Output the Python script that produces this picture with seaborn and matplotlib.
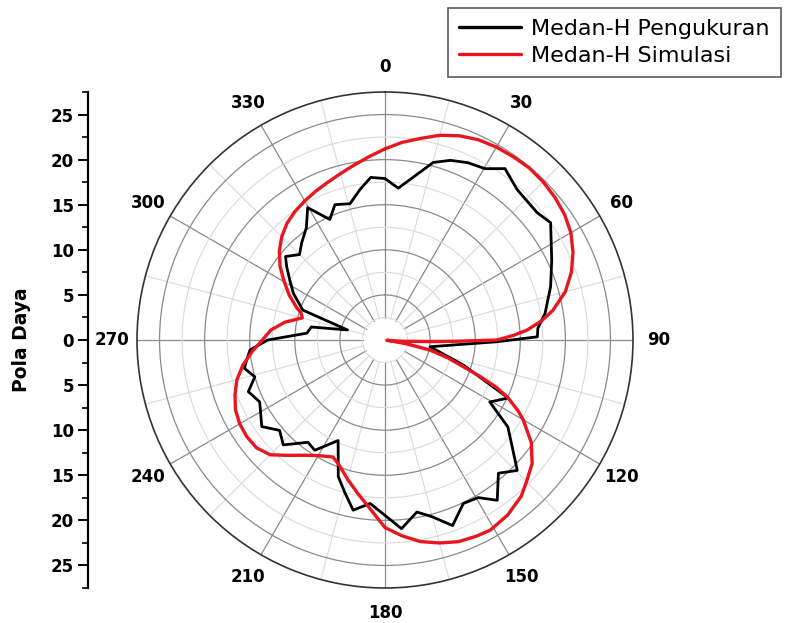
import numpy as np
import matplotlib
matplotlib.use("Agg")
import matplotlib.pyplot as plt
from matplotlib.ticker import FixedLocator, FuncFormatter
from matplotlib.lines import Line2D
import seaborn as sns

# Measured H-field pattern (angle in degrees, level)
meas_deg = [0, 5, 15.2, 20, 25, 30.3, 35, 41.3, 50, 54.7, 64.4, 72.1, 80.5, 85.6,
            88.8, 90.9, 98.5, 107.7, 115.2, 120.6, 125.3, 134.6, 139.6, 145, 149.4,
            154.4, 160, 165, 169.5, 175, 185.2, 190.6, 195, 198.9, 205, 212.5, 217,
            224.1, 229.4, 234.9, 243.7, 249.3, 254.2, 258.6, 261.8, 265.8, 270, 275,
            280, 285, 290, 297, 302.3, 306.7, 310, 315, 319.4, 325, 329.7, 335.4,
            339.7, 345.6, 350.5, 355]
meas_val = [17.9, 16.9, 20.4, 21.2, 21.7, 22.0, 23.2, 22.2, 22.0, 22.5, 20.5, 19.3,
            18.0, 17.0, 16.9, 12.4, 5.05, 9.1, 15.1, 13.5, 16.7, 20.6, 19.4, 21.7,
            20.3, 20.1, 21.9, 20.3, 19.4, 21.0, 18.2, 19.2, 17.4, 16.0, 12.3, 14.5,
            14.2, 16.2, 15.4, 16.7, 15.5, 16.2, 15.0, 15.9, 15.5, 15.0, 13.0, 8.7,
            8.3, 4.3, 9.7, 11.4, 12.5, 13.6, 14.4, 13.4, 14.2, 15.2, 17.0, 14.7,
            16.0, 15.6, 16.9, 18.1]

# Simulated H-field pattern
sim_deg = [0, 5, 10, 15, 20, 25, 30, 35, 40, 45, 50, 55, 60, 65, 70, 75, 80, 83, 86,
           88, 90, 91, 92, 94, 96, 98, 100, 102.5, 106, 109, 111, 113, 115, 118, 120,
           125, 130, 135, 139, 145, 151, 155, 160, 165, 170, 175, 180, 185, 190, 195,
           200, 204, 210, 215, 220, 225, 230, 235, 240, 245, 250, 255, 260, 265, 270,
           275, 280, 285, 288, 290, 295, 300, 305, 310, 315, 320, 325, 330, 335, 340,
           345, 350, 355]
sim_val = [21.2, 22.0, 22.7, 23.5, 24.1, 24.5, 24.7, 24.8, 24.9, 24.8, 24.6, 24.3,
           23.8, 23.0, 22.0, 20.7, 18.9, 17.5, 15.8, 14.2, 12.4, 8.0, 5.0, 2.0, 0.5,
           0.2, 2.5, 5.1, 7.3, 9.3, 11.3, 13.4, 15.0, 16.7, 17.7, 19.8, 21.3, 22.2,
           23.0, 23.7, 24.1, 24.0, 23.8, 23.3, 22.7, 21.8, 20.8, 18.8, 17.3, 16.0,
           14.8, 14.2, 14.8, 15.6, 16.7, 18.0, 18.6, 18.7, 18.6, 18.3, 17.7, 17.0,
           16.0, 14.8, 13.6, 12.7, 11.3, 9.5, 9.8, 10.4, 11.7, 12.9, 14.2, 15.3, 16.2,
           16.9, 17.4, 17.8, 18.2, 18.6, 19.1, 19.7, 20.4]

angle_labels = [str(a) for a in range(0, 360, 30)]
scale_ticks = [-25, -20, -15, -10, -5, 0, 5, 10, 15, 20, 25]
series_names = ["Medan-H Pengukuran", "Medan-H Simulasi"]
series_colors = ["black", "#e8161e"]

R_MAX = 27.5

sns.set_style("white")
plt.rcParams["font.family"] = ["DejaVu Sans"]
plt.rcParams["text.color"] = "black"
plt.rcParams["xtick.color"] = "black"
plt.rcParams["ytick.color"] = "black"
plt.rcParams["axes.labelcolor"] = "black"

W, H = 786, 623
fig = plt.figure(figsize=(W / 100, H / 100), dpi=100)

# polar panel: centre (385, 340) px, radius 248 px
cx, cy, rad = 385, 340, 248
ax = fig.add_axes([(cx - rad) / W, (H - cy - rad) / H, 2 * rad / W, 2 * rad / H],
                  projection="polar")
ax.set_theta_zero_location("N")
ax.set_theta_direction(-1)
ax.set_ylim(0, R_MAX)
ax.set_axisbelow(True)

ax.set_xticks(np.deg2rad(np.arange(0, 360, 30)))
ax.xaxis.set_minor_locator(FixedLocator(np.deg2rad(np.arange(15, 360, 30))))
ax.set_xticklabels([])
ax.set_yticks([5, 10, 15, 20, 25])
ax.yaxis.set_minor_locator(FixedLocator([2.5, 7.5, 12.5, 17.5, 22.5]))
ax.set_yticklabels([])

ax.xaxis.grid(True, which="major", color="#8a8a8a", lw=0.9)
ax.xaxis.grid(True, which="minor", color="#dadada", lw=0.8)
ax.yaxis.grid(True, which="major", color="#8a8a8a", lw=0.9)
ax.yaxis.grid(True, which="minor", color="#dadada", lw=0.8)
ax.tick_params(axis="x", which="major", length=0)
ax.tick_params(axis="x", which="minor", bottom=True, top=False, direction="in",
               length=5, width=1, color="#444444")
ax.tick_params(axis="y", which="both", length=0)
ax.spines["polar"].set_color("#333333")
ax.spines["polar"].set_linewidth(1.2)

# clear hub at the centre
hub = np.linspace(0, 2 * np.pi, 200)
ax.fill_between(hub, 0, 2.3, color="white", zorder=1)

m_th = np.deg2rad(np.append(meas_deg, meas_deg[0]))
m_r = np.append(meas_val, meas_val[0])
s_th = np.deg2rad(np.append(sim_deg, sim_deg[0]))
s_r = np.append(sim_val, sim_val[0])

sns.lineplot(x=m_th, y=m_r, ax=ax, sort=False, estimator=None,
             color=series_colors[0], lw=2.0, zorder=3)
sns.lineplot(x=s_th, y=s_r, ax=ax, sort=False, estimator=None,
             color=series_colors[1], lw=2.4, zorder=4)
ax.set_xlabel("")
ax.set_ylabel("")

for lab in angle_labels:
    ax.text(np.deg2rad(int(lab)), 30.3, lab, ha="center", va="center",
            fontsize=12, fontweight="bold", clip_on=False)

# linear scale on the left
sx = 88
lax = fig.add_axes([sx / W, (H - cy - rad) / H, 0.001, 2 * rad / H])
lax.set_ylim(-R_MAX, R_MAX)
lax.patch.set_visible(False)
for s in ["top", "right", "bottom"]:
    lax.spines[s].set_visible(False)
lax.spines["left"].set_linewidth(1.6)
lax.spines["left"].set_color("black")
lax.set_xticks([])
lax.set_yticks(scale_ticks)
lax.yaxis.set_minor_locator(FixedLocator(np.arange(-27.5, 27.6, 2.5)))
lax.yaxis.set_major_formatter(FuncFormatter(lambda v, p: f"{abs(int(round(v)))}"))
lax.tick_params(axis="y", which="major", left=True, right=False, direction="out",
                length=7, width=1.4, labelsize=12, pad=3, colors="black")
lax.tick_params(axis="y", which="minor", left=True, right=False, direction="out",
                length=4, width=1.2, colors="black")
for t in lax.get_yticklabels():
    t.set_fontweight("bold")

fig.text(22 / W, 1 - cy / H, "Pola Daya", rotation=90, ha="center", va="center",
         fontsize=13.5, fontweight="bold")

handles = [Line2D([], [], color=c, lw=2.4) for c in series_colors]
leg = fig.legend(handles, series_names, loc="upper left",
                 bbox_to_anchor=(448 / W, 1 - 8 / H), fontsize=16,
                 handlelength=2.8, handletextpad=0.45, labelspacing=0.3,
                 borderpad=0.5, frameon=True, fancybox=False, borderaxespad=0)
leg.get_frame().set_edgecolor("#333333")
leg.get_frame().set_linewidth(1.2)

fig.savefig("out.png", dpi=100)
